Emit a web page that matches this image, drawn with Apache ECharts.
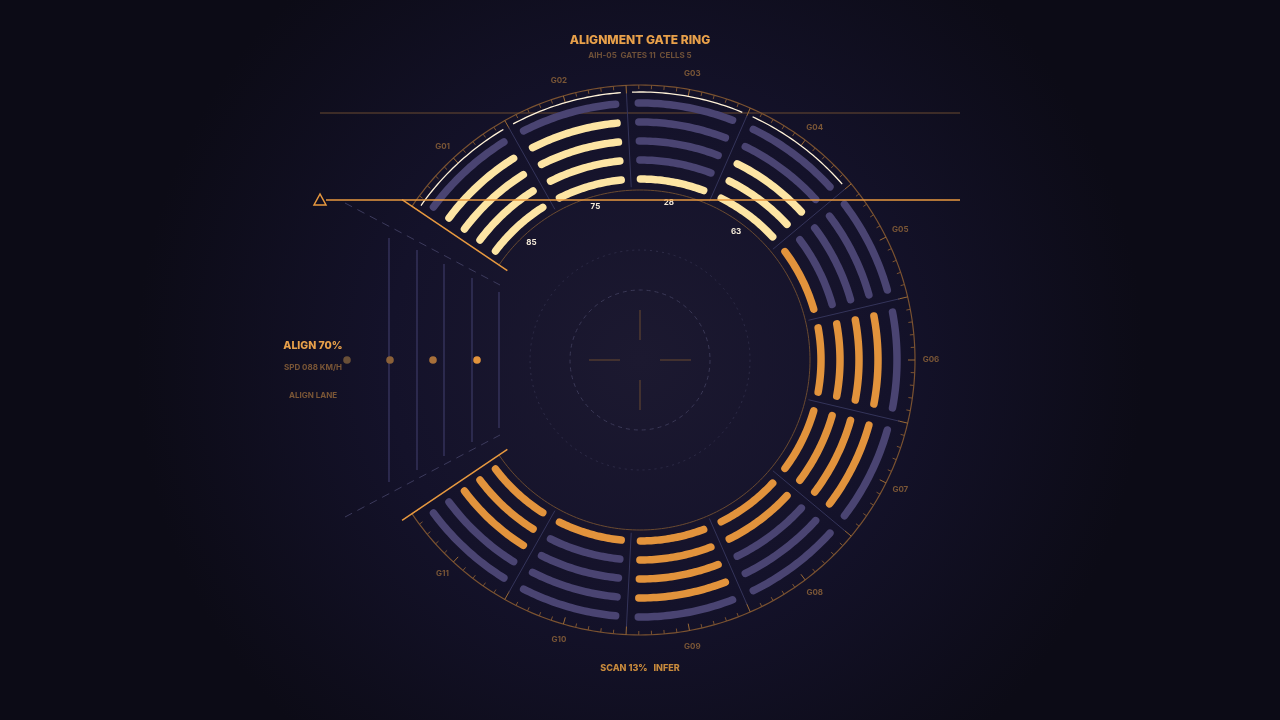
<!DOCTYPE html>
<html><head><meta charset="utf-8">
<script src="https://cdn.jsdelivr.net/npm/echarts@6/dist/echarts.min.js"></script>
<style>html,body{margin:0;padding:0;background:#0d0c18}#c{width:1280px;height:720px}</style>
</head><body><div id="c"></div>
<script>
const gates = ['G01','G02','G03','G04','G05','G06','G07','G08','G09','G10','G11'];
const gateValues = [85, 75, 28, 63, 15, 80, 82, 45, 78, 20, 60];
const scanGates = [true, true, true, true, false, false, false, false, false, false, false];
const cellsPerGate = 5;
const showValue = [true, true, true, true, false, false, false, false, false, false, false];

const START = 146, SPAN = 292, STEP = SPAN / gates.length;
const R_IN = 170, R_OUT = 275, R0 = 181, RSTEP = 19;
const C_PURPLE = '#4a4472', C_YEL = '#fde5a4', C_OR = '#e2933c', C_FRAME = '#7a5230';

const cellData = [];
gates.forEach((g, i) => {
  const lit = Math.round(gateValues[i] * cellsPerGate / 100);
  for (let k = 0; k < cellsPerGate; k++) {
    cellData.push([i, k, k < lit ? (scanGates[i] ? 2 : 1) : 0]);
  }
});
const gateData = gates.map((g, i) => [i, gateValues[i]]);

function arcPts(api, r, a0, a1, n) {
  const pts = [];
  for (let j = 0; j <= n; j++) {
    const a = a0 + (a1 - a0) * j / n;
    pts.push(api.coord([r, (a + 720) % 360]));
  }
  return pts;
}

const chart = echarts.init(document.getElementById('c'));
const W = 1280, H = 720, CX = 640, CY = 360;
const laneX = [389, 417, 444, 472, 499];
const laneHalf = [122, 110, 96, 82, 68];
const dotX = [347, 390, 433, 477];
const dotCol = ['#6a5038', '#8a6038', '#a8703a', '#e2933c'];

const graphics = [];
graphics.push({type:'line', shape:{x1:320,y1:113,x2:960,y2:113}, style:{stroke:'#6a4a30',lineWidth:1}, z:1});
graphics.push({type:'line', shape:{x1:326,y1:200,x2:960,y2:200}, style:{stroke:'#e8993f',lineWidth:1.5}, z:50});
graphics.push({type:'polygon', shape:{points:[[320,194],[314,205],[326,205]]}, style:{fill:'none',stroke:'#e8993f',lineWidth:1.5}, z:50});
graphics.push({type:'line', shape:{x1:345,y1:203,x2:500,y2:285}, style:{stroke:'#3c3a5c',lineWidth:1,lineDash:[8,6]}});
graphics.push({type:'line', shape:{x1:345,y1:517,x2:500,y2:435}, style:{stroke:'#3c3a5c',lineWidth:1,lineDash:[8,6]}});
laneX.forEach((x, i) => graphics.push({type:'line', shape:{x1:x,y1:CY-laneHalf[i],x2:x,y2:CY+laneHalf[i]}, style:{stroke:'#3c3a66',lineWidth:1.2}}));
dotX.forEach((x, i) => graphics.push({type:'circle', shape:{cx:x,cy:CY,r:3.8}, style:{fill:dotCol[i]}}));
graphics.push({type:'circle', shape:{cx:CX,cy:CY,r:110}, style:{fill:'none',stroke:'#2e2c48',lineWidth:1,lineDash:[2,4]}});
graphics.push({type:'circle', shape:{cx:CX,cy:CY,r:70}, style:{fill:'none',stroke:'#3a3856',lineWidth:1,lineDash:[4,4]}});
[[589,360,620,360],[660,360,691,360],[640,310,640,340],[640,380,640,410]].forEach(s =>
  graphics.push({type:'line', shape:{x1:s[0],y1:s[1],x2:s[2],y2:s[3]}, style:{stroke:'#6a4a30',lineWidth:1}}));
const T = (x,y,t,size,col,w) => graphics.push({type:'text', x, y, style:{text:t, fill:col, font:`${w||'bold'} ${size}px Inter, "DejaVu Sans", sans-serif`, textAlign:'center', textVerticalAlign:'middle'}, z:60});
T(640,40,'ALIGNMENT GATE RING',12,'#e8a04a','800');
T(640,56,'AIH-05  GATES 11  CELLS 5',8,'#6e5038');
T(313,346,'ALIGN 70%',10.5,'#e8a04a','800');
T(313,368,'SPD 088 KM/H',8,'#7a5636');
T(313,396,'ALIGN LANE',8,'#7a5636');
T(640,668,'SCAN 13%   INFER',9,'#c88a3c','800');

chart.setOption({
  backgroundColor: {type:'radial', x:0.5, y:0.5, r:0.7, colorStops:[{offset:0,color:'#1c1930'},{offset:0.5,color:'#14122a'},{offset:1,color:'#0c0b16'}]},
  animation: false,
  polar: {center:['50%','50%'], radius: R_OUT},
  angleAxis: {type:'value', min:0, max:360, startAngle:0, clockwise:false, show:false},
  radiusAxis: {type:'value', min:0, max:R_OUT, show:false},
  graphic: graphics,
  series: [
    {
      type:'custom', coordinateSystem:'polar', data:[[0]], z:2, silent:true,
      renderItem: (params, api) => {
        const ch = [];
        const end = START - SPAN;
        ch.push({type:'polyline', shape:{points:arcPts(api, R_OUT, START, end, 240)}, style:{stroke:C_FRAME,lineWidth:1.2,fill:null}});
        ch.push({type:'polyline', shape:{points:arcPts(api, R_IN, START, end, 240)}, style:{stroke:'#6a4a30',lineWidth:1,fill:null}});
        for (let t = 0; t <= gates.length * 10; t++) {
          const a = START - t * STEP / 10;
          const len = t % 10 === 0 ? 10 : (t % 5 === 0 ? 7 : 4);
          const p0 = api.coord([R_OUT, (a+720)%360]), p1 = api.coord([R_OUT - len, (a+720)%360]);
          ch.push({type:'line', shape:{x1:p0[0],y1:p0[1],x2:p1[0],y2:p1[1]}, style:{stroke:t%5===0?'#9a6a36':C_FRAME,lineWidth:1}});
        }
        const e1 = api.coord([R_IN - 10, START]), e2 = api.coord([R_OUT + 12, START]);
        const f1 = api.coord([R_IN - 10, (end+720)%360]), f2 = api.coord([R_OUT + 12, (end+720)%360]);
        ch.push({type:'line', shape:{x1:e1[0],y1:e1[1],x2:e2[0],y2:e2[1]}, style:{stroke:'#e8993f',lineWidth:1.5}});
        ch.push({type:'line', shape:{x1:f1[0],y1:f1[1],x2:f2[0],y2:f2[1]}, style:{stroke:'#e8993f',lineWidth:1.5}});
        return {type:'group', children:ch};
      }
    },
    {
      type:'custom', coordinateSystem:'polar', data:gateData, z:3, silent:true,
      renderItem: (params, api) => {
        const i = api.value(0), v = api.value(1);
        const a0 = START - i * STEP, a1 = a0 - STEP, am = a0 - STEP/2;
        const ch = [];
        if (i > 0) {
          const p0 = api.coord([R_IN + 3, (a0+720)%360]), p1 = api.coord([R_OUT - 8, (a0+720)%360]);
          ch.push({type:'line', shape:{x1:p0[0],y1:p0[1],x2:p1[0],y2:p1[1]}, style:{stroke:'#34345a',lineWidth:1}});
        }
        if (scanGates[i]) {
          ch.push({type:'polyline', shape:{points:arcPts(api, R_OUT - 7, a0 - 1.2, a1 + 1.2, 30)}, style:{stroke:'#fff2d8',lineWidth:1.3,fill:null}});
        }
        const lp = api.coord([291, (am+720)%360]);
        ch.push({type:'text', x:lp[0], y:lp[1], style:{text:gates[i], fill:'#7a5636', font:'bold 8px Inter, sans-serif', textAlign:'center', textVerticalAlign:'middle'}});
        if (showValue[i]) {
          const vp = api.coord([160, (am+720)%360]);
          ch.push({type:'text', x:vp[0], y:vp[1], style:{text:String(v), fill:'#f4ead8', font:'bold 8px Inter, sans-serif', textAlign:'center', textVerticalAlign:'middle'}});
        }
        return {type:'group', children:ch};
      }
    },
    {
      type:'custom', coordinateSystem:'polar', data:cellData, z:4, silent:true,
      renderItem: (params, api) => {
        const i = api.value(0), k = api.value(1), s = api.value(2);
        const r = R0 + k * RSTEP;
        const padDeg = (5.5 / r) * 180 / Math.PI + 1.3;
        const a0 = START - i * STEP - padDeg, a1 = START - (i+1) * STEP + padDeg;
        const col = s === 2 ? C_YEL : (s === 1 ? C_OR : C_PURPLE);
        return {type:'polyline', shape:{points:arcPts(api, r, a0, a1, 30)}, style:{stroke:col, lineWidth:7.5, lineCap:'round', fill:null}};
      }
    }
  ]
});
</script></body></html>
